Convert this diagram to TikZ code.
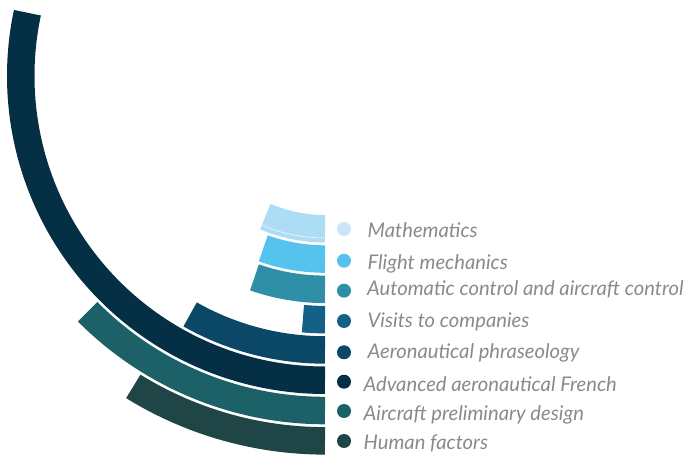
\documentclass[tikz,border=0pt]{standalone}
\usepackage{fontspec}
\setmainfont{Lato}
\usetikzlibrary{positioning}
\definecolor{mathc}{HTML}{ADDCF5}
\definecolor{mathd}{HTML}{C9E6F8}
\definecolor{flightc}{HTML}{55C3EE}
\definecolor{autoc}{HTML}{2E8FA7}
\definecolor{visitc}{HTML}{136187}
\definecolor{phrasec}{HTML}{0B4868}
\definecolor{frenchc}{HTML}{052F45}
\definecolor{designc}{HTML}{1B6167}
\definecolor{humanc}{HTML}{1F4546}
\definecolor{labelc}{HTML}{8A8A8A}
\tikzset{
  band/.style={line width=27.5pt},
  dot/.style={circle,inner sep=0pt,minimum size=14pt},
  lbl/.style={anchor=base west,inner sep=0pt,text=labelc,font=\fontsize{20.2}{24}\selectfont\itshape}
}

\begin{document}
\begin{tikzpicture}[x=1pt,y=1pt]
			\useasboundingbox (0,0) rectangle (686,458);
			\coordinate (c) at (325,382);
			% bands, from the inside out
			\draw [band,mathc] ([shift={(-90:152.75)}]c) arc[start angle=-90,end angle=-113,radius=152.75];
			\draw [white,line width=0.6pt,opacity=0.8] ([shift={(-90:162)}]c) arc[start angle=-90,end angle=-113,radius=162];
			\draw [band,flightc] ([shift={(-90:183.05)}]c) arc[start angle=-90,end angle=-109.7,radius=183.05];
			\draw [band,autoc] ([shift={(-90:213.35)}]c) arc[start angle=-90,end angle=-109.3,radius=213.35];
			\draw [band,visitc] ([shift={(-90:243.65)}]c) arc[start angle=-90,end angle=-95.2,radius=243.65];
			\draw [band,phrasec] ([shift={(-90:273.95)}]c) arc[start angle=-90,end angle=-119.5,radius=273.95];
			\draw [band,frenchc] ([shift={(-90:304.25)}]c) arc[start angle=-90,end angle=-192,radius=304.25];
			\draw [band,designc] ([shift={(-90:334.55)}]c) arc[start angle=-90,end angle=-135.2,radius=334.55];
			\draw [band,humanc] ([shift={(-90:364.85)}]c) arc[start angle=-90,end angle=-121.7,radius=364.85];
			% legend
			\node [dot,fill=mathd] (d1) at (344,229) {};
			\node [dot,fill=flightc] (d2) at (344,197.3) {};
			\node [dot,fill=autoc] (d3) at (344,167.3) {};
			\node [dot,fill=visitc] (d4) at (344,137) {};
			\node [dot,fill=phrasec] (d5) at (344,105.7) {};
			\node [dot,fill=frenchc] (d6) at (344,76.3) {};
			\node [dot,fill=designc] (d7) at (344,47) {};
			\node [dot,fill=humanc] (d8) at (344,17) {};
			\node [lbl] (l1) at (367.5,220) {Mathematics};
			\node [lbl] (l2) at (367.5,188) {Flight mechanics};
			\node [lbl] (l3) at (367,162) {Automatic control and aircraft control};
			\node [lbl] (l4) at (367.5,130) {Visits to companies};
			\node [lbl] (l5) at (367.5,99) {Aeronautical phraseology};
			\node [lbl] (l6) at (363.5,66.3) {Advanced aeronautical French};
			\node [lbl] (l7) at (363.5,37) {Aircraft preliminary design};
			\node [lbl] (l8) at (363.5,8) {Human factors};
			\end{tikzpicture}
\end{document}
